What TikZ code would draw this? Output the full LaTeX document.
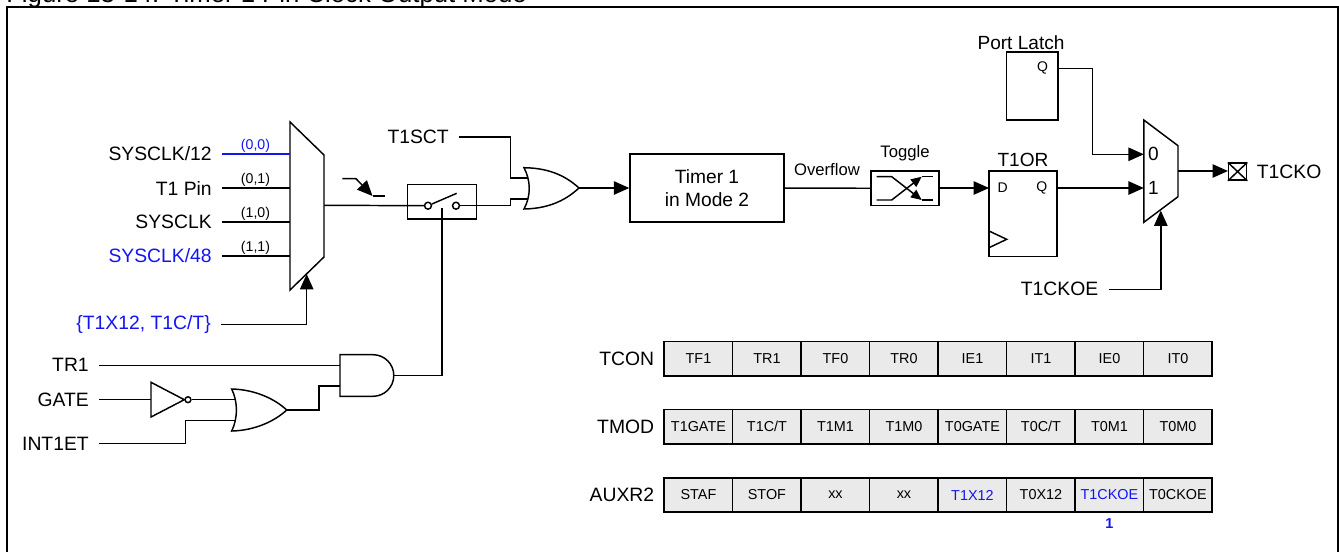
\documentclass[tikz,border=0pt]{standalone}
\usepackage{fontspec}
\setmainfont{Liberation Sans}
\usetikzlibrary{arrows.meta,positioning}
\definecolor{bitblue}{RGB}{20,20,240}
\definecolor{cellgray}{RGB}{234,234,234}

\begin{document}
\begin{tikzpicture}[
    x=0.75pt, y=-0.75pt,
    node distance=7.5pt and 7.5pt,
    block/.style={draw=black, line width=1.1pt, inner sep=0pt, align=center},
    sig/.style={inner sep=0pt, anchor=east, font=\fontsize{14.5}{16}\selectfont},
    code/.style={inner sep=0pt, font=\fontsize{10.6}{12}\selectfont},
    note/.style={inner sep=0pt, font=\fontsize{12.5}{14}\selectfont},
    large/.style={inner sep=0pt, font=\fontsize{14.3}{16}\selectfont},
    pinname/.style={inner sep=0pt, font=\fontsize{10.5}{12}\selectfont},
    bitcell/.style={draw=black, line width=1.1pt, fill=cellgray, inner sep=0pt,
      minimum width=51.4pt, minimum height=25.6pt, font=\fontsize{10.8}{12}\selectfont},
    wire/.style={line width=1.1pt},
    gate/.style={draw=black, line width=1.1pt, fill=white},
    arrow/.style={wire, -{Triangle[length=11.5pt, width=10pt]}},
    small/.style={wire, -{Triangle[length=8pt, width=7pt]}}
  ]
    \useasboundingbox (0,0) rectangle (1339,551);
    \begin{scope}
    \clip (0,0) rectangle (1339,551);
    \node[inner sep=0pt, anchor=base west, font=\fontsize{19.3}{21}\selectfont] (title) at (6,2.5) {Figure 13-14. Timer 1 Pin Clock Output Mode};
    \draw[line width=1.5pt] (7,560) -- (7,7) -- (1337.5,7) -- (1337.5,560);
    \end{scope}

    % input mux
    \draw[gate] (290,122) -- (324,155) -- (324,257) -- (290,290) -- cycle;
    \coordinate (muxa0) at (290,154);
    \coordinate (muxa1) at (290,188);
    \coordinate (muxa2) at (290,222);
    \coordinate (muxa3) at (290,256);
    \coordinate (muxaout) at (324,205.3);
    \coordinate (muxasel) at (306.7,274);
    \node[sig] (clk12) at (212,154) {SYSCLK/12};
    \node[sig] (t1pin) at (212,188) {T1 Pin};
    \node[sig] (clk) at (212,222) {SYSCLK};
    \node[sig, text=bitblue] (clk48) at (212,256) {SYSCLK/48};
    \node[sig, text=bitblue] (sel) at (211,324.3) {\{T1X12, T1C/T\}};
    \draw[wire, bitblue] ([xshift=7.5pt]clk12.east) -- (muxa0);
    \draw[wire] ([xshift=7.5pt]t1pin.east) -- (muxa1);
    \draw[wire] ([xshift=7.5pt]clk.east) -- (muxa2);
    \draw[wire] ([xshift=7.5pt]clk48.east) -- (muxa3);
    \draw[arrow] ([xshift=7.5pt]sel.east) -| (muxasel);
    \node[code, text=bitblue] (c00) at (255.5,146) {(0,0)};
    \node[code] (c01) at (255.5,180) {(0,1)};
    \node[code] (c10) at (255.5,214) {(1,0)};
    \node[code] (c11) at (255.5,248) {(1,1)};

    % falling edge mark
    \coordinate (edgea) at (342.4,178.7);
    \coordinate (edgeb) at (356,178.7);
    \coordinate (edgec) at (372.5,196);
    \coordinate (edged) at (384.7,196);
    \draw[wire, -{Triangle[length=11.5pt, width=10pt]}] (edgea) -- (edgeb) -- (edgec);
    \draw[wire] (edgec) -- (edged);

    % switch
    \node[block, minimum width=51.6pt, minimum height=26pt] (switch) at (442.1,201.7) {};
    \node[draw, circle, wire, minimum size=5.2pt, inner sep=0pt] (swa) at (428,205.7) {};
    \node[draw, circle, wire, minimum size=5.2pt, inner sep=0pt] (swb) at (456,205.7) {};
    \coordinate (blade) at (456.7,193.3);
    \coordinate (swctl) at (441.9,208);
    \draw[wire] (muxaout) -- (swa);
    \draw[wire] (swa) -- (blade);

    % T1SCT or gate
    \node[sig] (t1sct) at (449,137) {T1SCT};
    \draw[gate] (524,167.7) .. controls (552,168) and (568,178) .. (579,188)
      .. controls (568,198) and (552,208.5) .. (524,209)
      .. controls (531,196) and (531,181) .. (524,167.7) -- cycle;
    \coordinate (ora0) at (527.5,178);
    \coordinate (ora1) at (527.5,199);
    \coordinate (oraout) at (579,188);
    \coordinate (orajog) at (510.5,205.7);
    \draw[wire] ([xshift=7.5pt]t1sct.east) -| (510.5,178) -- (ora0);
    \draw[wire] (swb) -- (orajog) |- (ora1);

    % timer and toggle
    \node[block, minimum width=115.5pt, minimum height=51pt, font=\fontsize{14.4}{17}\selectfont] (timer) at (707,188) {Timer 1\\in Mode 2};
    \node[note] (overflow) at (827,170) {Overflow};
    \node[block, minimum width=51pt, minimum height=26pt] (toggle) at (905,188.3) {};
    \node[note] (togglelabel) at (905,153) {Toggle};
    \draw[arrow] (oraout) -- (timer);
    \draw[wire] (timer) -- (toggle);
    \draw[small] (876.7,176.7) -- (891.7,176.7) -- (921.7,200);
    \draw[wire] (921.7,200) -- (932.7,200);
    \draw[small] (876.7,200) -- (891.7,200) -- (921.7,176.7);
    \draw[wire] (921.7,176.7) -- (932.7,176.7);

    % T1OR flip flop
    \node[block, minimum width=51pt, minimum height=64.3pt] (t1or) at (1023,213.8) {};
    \node[large, above=2.5pt of t1or] (t1orlabel) {T1OR};
    \node[pinname] (t1ord) at (1002.7,188) {D};
    \node[pinname] (t1orq) at (1041.7,188) {Q};
    \draw[wire] (989,231) -- (1006.7,239.3) -- (989,247.7);
    \coordinate (t1orin) at (989,188);
    \coordinate (t1orout) at (1057,188);
    \draw[arrow] (toggle.east |- t1orin) -- (t1orin);

    % port latch
    \node[block, minimum width=38.4pt, minimum height=51pt] (latch) at (1032.3,85.8) {};
    \node[large] (latchlabel) at (1021,42.7) {Port Latch};
    \node[pinname] (latchq) at (1042.5,68.3) {Q};
    \coordinate (latchout) at (1058,68.7);

    % output mux
    \draw[gate] (1143.8,120) -- (1178,145.7) -- (1178,196.7) -- (1143.8,222.3) -- cycle;
    \coordinate (muxb0) at (1143.8,154.3);
    \coordinate (muxb1) at (1143.8,188);
    \coordinate (muxbout) at (1178,171);
    \coordinate (muxbsel) at (1160.8,210.5);
    \node[large] (zero) at (1153.5,154.3) {0};
    \node[large] (one) at (1153.5,188) {1};
    \draw[arrow] (latchout) -| (1092.5,154.3) -- (muxb0);
    \draw[arrow] (t1orout) -- (muxb1);
    \node[sig] (t1ckoe) at (1098.5,289.3) {T1CKOE};
    \draw[arrow] ([xshift=7.5pt]t1ckoe.east) -| (muxbsel);

    % output pin
    \node[block, minimum width=13.4pt, minimum height=12.6pt] (pin) at (1237.6,171.6) {};
    \draw[wire] (pin.north west) -- (pin.south east);
    \draw[wire] (pin.north east) -- (pin.south west);
    \node[sig, anchor=west, right=7pt of pin] (t1cko) {T1CKO};
    \draw[arrow] (muxbout) -- (pin.west |- muxbout);

    % gate logic
    \node[sig] (tr1) at (89,365.3) {TR1};
    \node[sig] (gatepin) at (89,399.7) {GATE};
    \node[sig] (intet) at (89,443.7) {INT1ET};
    \draw[gate] (340,354.7) -- (373,354.7) arc[start angle=90, end angle=-90, radius=15.6pt] -- (340,396.3) -- cycle;
    \coordinate (anda) at (340,365.3);
    \coordinate (andb) at (340,386);
    \coordinate (andout) at (394,375.7);
    \draw[gate] (231.7,389) .. controls (255,389.5) and (275,399) .. (286.7,410)
      .. controls (275,421) and (255,430.5) .. (231.7,431)
      .. controls (238,418) and (238,402) .. (231.7,389) -- cycle;
    \coordinate (orb0) at (235.2,399.7);
    \coordinate (orb1) at (235.2,420.3);
    \coordinate (orbout) at (286.7,410);
    \draw[gate] (151,382.3) -- (184.3,399.7) -- (151,417) -- cycle;
    \coordinate (notin) at (151,399.7);
    \node[draw, circle, wire, fill=white, minimum size=4.4pt, inner sep=0pt] (bubble) at (188,399.7) {};
    \draw[wire] ([xshift=7.5pt]tr1.east) -- (anda);
    \draw[wire] ([xshift=7.5pt]gatepin.east) -- (notin);
    \draw[wire] (bubble) -- (orb0);
    \draw[wire] ([xshift=7.5pt]intet.east) -| (185.3,420.3) -- (orb1);
    \draw[wire] (orbout) -| (319,386) -- (andb);
    \draw[wire] (andout) -| (swctl);

    % register rows
    \node[sig] (tcon) at (654.4,358.7) {TCON};
    \node[sig] (tmod) at (654.4,426.8) {TMOD};
    \node[sig] (auxr) at (654.4,495) {AUXR2};
    \foreach \name [count=\i] in {TF1,TR1,TF0,TR0,IE1,IT1,IE0,IT0}
      \node[bitcell] (tcon\i) at (664.2+68.5*\i-34.25,358.7) {\name};
    \foreach \name [count=\i] in {T1GATE,T1C/T,T1M1,T1M0,T0GATE,T0C/T,T0M1,T0M0}
      \node[bitcell] (tmod\i) at (664.2+68.5*\i-34.25,426.8) {\name};
    \foreach \name [count=\i] in {STAF,STOF,xx,xx,{\textcolor{bitblue}{T1X12}},T0X12,{\textcolor{bitblue}{T1CKOE}},T0CKOE}
      \node[bitcell] (auxr\i) at (664.2+68.5*\i-34.25,495) {\name};
    \node[code, text=bitblue, font=\fontsize{10.8}{12}\selectfont\bfseries, below=4pt of auxr7] (bitone) {1};
  \end{tikzpicture}
\end{document}
